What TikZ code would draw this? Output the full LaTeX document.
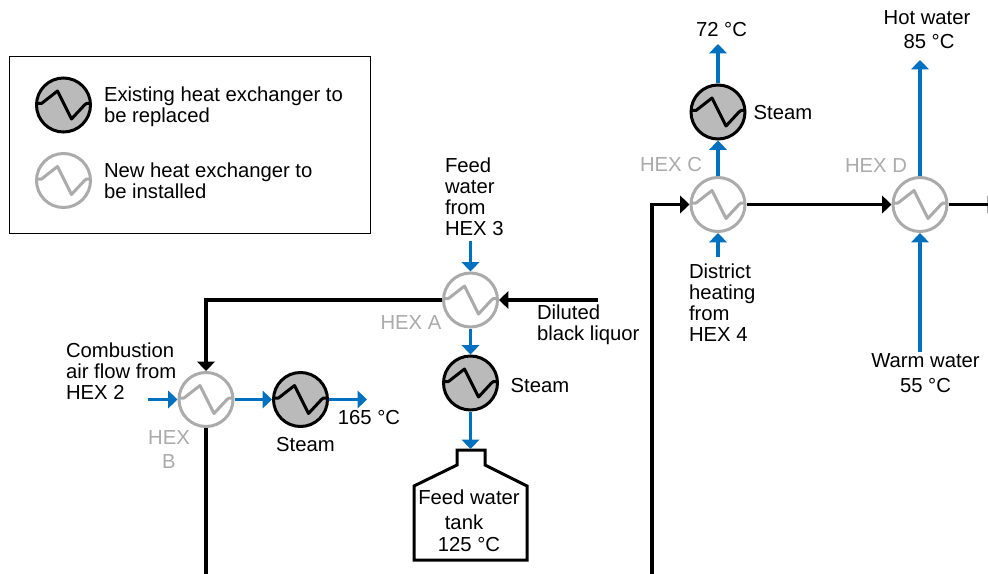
\documentclass[tikz,border=0pt]{standalone}
\usepackage{fontspec}
\setmainfont{Liberation Sans}
\usetikzlibrary{arrows.meta}
\definecolor{flowblue}{HTML}{0070C0}
\definecolor{hexgray}{HTML}{ABABAB}
\definecolor{hexfill}{HTML}{BABABA}
\newcommand{\hexwave}[1]{\draw[#1,line width=2.25pt,line join=round,shift={(path picture bounding box.center)},x=0.75pt,y=-0.75pt]
  (-30,-1.5) -- (-22,-1.5) -- (-6,-14) -- (8,14) -- (21,0) -- (23,-1.5) -- (30,-1.5);}
\tikzset{
  hexold/.style={circle,draw=black,fill=hexfill,line width=2.25pt,minimum size=40.5pt,inner sep=0pt,path picture={\hexwave{black}}},
  hexnew/.style={circle,draw=hexgray,fill=white,line width=2.25pt,minimum size=40.5pt,inner sep=0pt,path picture={\hexwave{hexgray}}},
  bluearrow/.style={draw=flowblue,line width=2.4pt,-{Triangle[length=7pt,width=13pt,fill=flowblue]}},
  blackarrow/.style={draw=black,line width=2.4pt,-{Triangle[length=7pt,width=13pt,fill=black]}},
  blackline/.style={draw=black,line width=2.4pt},
  label/.style={inner sep=0pt,outer sep=0pt,font=\fontsize{15.2}{15.7}\selectfont,text=black},
  leftlabel/.style={label,anchor=west,align=left},
  midlabel/.style={label,anchor=center,align=center},
  graylabel/.style={label,anchor=center,align=center,text=hexgray},
}
\begin{document}
\begin{tikzpicture}[x=0.75pt,y=-0.75pt]
\useasboundingbox (0,0) rectangle (988,574);
\clip (0,0) rectangle (988,574);
\fill[white] (0,0) rectangle (988,574);
% legend
\node[draw=black,line width=0.75pt,inner sep=0pt,minimum width=270.75pt,minimum height=132pt] (legend) at (189.5,145) {};
\node[hexold] (legold) at (63.5,105) {};
\node[hexnew] (legnew) at (63.5,180.5) {};
\node[leftlabel] (legoldt) at (104,107) {Existing heat exchanger to\\be replaced};
\node[leftlabel] (legnewt) at (104,181) {New heat exchanger to\\be installed};
% exchangers
\node[hexnew] (hexA) at (470.5,300) {};
\node[hexold] (stA) at (470.5,383) {};
\node[hexnew] (hexB) at (206,399.5) {};
\node[hexold] (stB) at (300.5,399.5) {};
\node[hexnew] (hexC) at (718,204.5) {};
\node[hexold] (stC) at (718,112) {};
\node[hexnew] (hexD) at (920,204.5) {};
% tank
\draw[line width=2.25pt,line join=miter,fill=white] (457,450) -- (485,450) -- (485,465) -- (527,486) -- (527,560) -- (414,560) -- (414,486) -- (457,465) -- cycle;
\coordinate (tanktop) at (470.5,449);
% free ends
\coordinate (feedA) at (470.5,241);
\coordinate (dilA) at (598,300);
\coordinate (corner1) at (206,300);
\coordinate (bottomB) at (206,576);
\coordinate (airB) at (148,399.5);
\coordinate (outB) at (367,399.5);
\coordinate (outC) at (718,44);
\coordinate (inC) at (718,257);
\coordinate (outD) at (920,60);
\coordinate (inD) at (920,352);
\coordinate (bottomC) at (652,576);
\coordinate (corner2) at (652,204.5);
\coordinate (outDb) at (997,204.5);
% connectors
\draw[bluearrow] (feedA) -- (hexA.north);
\draw[blackarrow] (dilA) -- (hexA.east);
\draw[blackarrow] (hexA.west) -- (corner1) -- (hexB.north);
\draw[blackline] (hexB.south) -- (bottomB);
\draw[bluearrow] (airB) -- (hexB.west);
\draw[bluearrow] (hexB.east) -- (stB.west);
\draw[bluearrow] (stB.east) -- (outB);
\draw[bluearrow] (hexA.south) -- (stA.north);
\draw[bluearrow] (stA.south) -- (tanktop);
\draw[blackarrow] (bottomC) -- (corner2) -- (hexC.west);
\draw[blackarrow] (hexC.east) -- (hexD.west);
\draw[blackarrow] (hexD.east) -- (outDb);
\draw[bluearrow] (inC) -- (hexC.south);
\draw[bluearrow] (hexC.north) -- (stC.south);
\draw[bluearrow] (stC.north) -- (outC);
\draw[bluearrow] (hexD.north) -- (outD);
\draw[bluearrow] (inD) -- (hexD.south);
% labels
\node[leftlabel] (t1) at (445,196.5) {Feed\\water\\from\\HEX 3};
\node[leftlabel] (t2) at (537,324.5) {Diluted\\black liquor};
\node[graylabel] (t3) at (411,323) {HEX A};
\node[leftlabel] (t4) at (66,371) {Combustion\\air flow from\\HEX 2};
\node[graylabel] (t5) at (169,438) {HEX};
\node[graylabel] (t6) at (169,462) {B};
\node[midlabel] (t7) at (305.5,445) {Steam};
\node[midlabel] (t8) at (369,418) {165 °C};
\node[midlabel] (t9) at (540,386) {Steam};
\node[midlabel] (t10) at (469,497) {Feed water};
\node[midlabel] (t11) at (464,522) {tank};
\node[midlabel] (t12) at (469,545) {125 °C};
\node[midlabel] (t13) at (721.5,30) {72 °C};
\node[midlabel] (t14) at (783,113) {Steam};
\node[graylabel] (t15) at (671,165) {HEX C};
\node[graylabel] (t16) at (876,166) {HEX D};
\node[midlabel] (t17) at (927,18) {Hot water};
\node[midlabel] (t18) at (929,42) {85 °C};
\node[leftlabel] (t19) at (689,302.5) {District\\heating\\from\\HEX 4};
\node[midlabel] (t20) at (925.5,361) {Warm water};
\node[midlabel] (t21) at (925.5,386) {55 °C};
\end{tikzpicture}
\end{document}
